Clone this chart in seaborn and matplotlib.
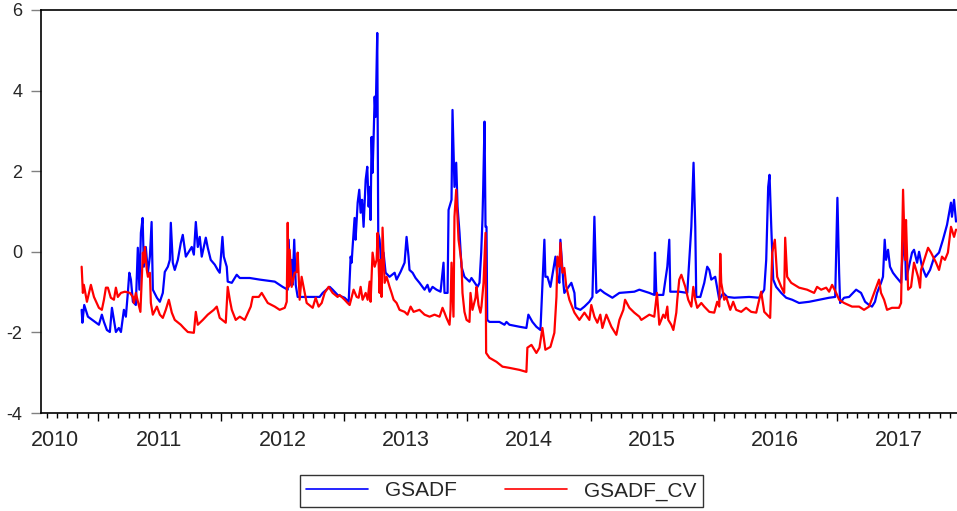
import pandas as pd
import matplotlib
matplotlib.use('Agg')
import matplotlib.pyplot as plt
import matplotlib.transforms as mtransforms
from matplotlib.ticker import MultipleLocator, NullFormatter
import seaborn as sns

# GSADF statistic (time in decimal years, value)
gsadf_t = [2010.868, 2010.874, 2010.889, 2010.919, 2010.976, 2011.008, 2011.032, 2011.049, 2011.073, 2011.097,
           2011.114, 2011.130, 2011.146, 2011.170, 2011.187, 2011.211, 2011.227, 2011.243, 2011.255, 2011.268,
           2011.284, 2011.308, 2011.324, 2011.337, 2011.349, 2011.363, 2011.373, 2011.389, 2011.406, 2011.422,
           2011.436, 2011.446, 2011.479, 2011.503, 2011.527, 2011.543, 2011.568, 2011.584, 2011.592, 2011.608,
           2011.624, 2011.649, 2011.673, 2011.689, 2011.714, 2011.738, 2011.762, 2011.779, 2011.795, 2011.811,
           2011.827, 2011.843, 2011.876, 2011.892, 2011.916, 2011.949, 2011.973, 2011.989, 2012.011, 2012.022,
           2012.046, 2012.054, 2012.087, 2012.127, 2012.152, 2012.233, 2012.314, 2012.436, 2012.500, 2012.541,
           2012.549, 2012.561, 2012.573, 2012.581, 2012.594, 2012.606, 2012.622, 2012.719, 2012.800, 2012.825,
           2012.882, 2012.906, 2012.946, 2013.003, 2013.036, 2013.052, 2013.060, 2013.068, 2013.084, 2013.092,
           2013.109, 2013.122, 2013.133, 2013.145, 2013.157, 2013.174, 2013.187, 2013.198, 2013.206, 2013.214,
           2013.222, 2013.230, 2013.238, 2013.247, 2013.255, 2013.268, 2013.276, 2013.287, 2013.303, 2013.319,
           2013.336, 2013.368, 2013.409, 2013.425, 2013.457, 2013.490, 2013.506, 2013.522, 2013.530, 2013.555,
           2013.579, 2013.611, 2013.652, 2013.676, 2013.693, 2013.717, 2013.749, 2013.782, 2013.806, 2013.814,
           2013.839, 2013.847, 2013.871, 2013.879, 2013.895, 2013.909, 2013.920, 2013.936, 2013.952, 2013.976,
           2014.017, 2014.033, 2014.082, 2014.098, 2014.112, 2014.122, 2014.128, 2014.139, 2014.147, 2014.155,
           2014.161, 2014.179, 2014.260, 2014.301, 2014.317, 2014.341, 2014.423, 2014.479, 2014.495, 2014.528,
           2014.560, 2014.593, 2014.625, 2014.633, 2014.650, 2014.674, 2014.715, 2014.731, 2014.747, 2014.755,
           2014.779, 2014.787, 2014.844, 2014.869, 2014.877, 2014.917, 2014.950, 2014.990, 2015.015, 2015.031,
           2015.047, 2015.079, 2015.112, 2015.177, 2015.234, 2015.355, 2015.396, 2015.477, 2015.517, 2015.523,
           2015.534, 2015.590, 2015.623, 2015.639, 2015.647, 2015.720, 2015.785, 2015.818, 2015.836, 2015.850,
           2015.858, 2015.891, 2015.923, 2015.947, 2015.964, 2015.980, 2016.012, 2016.045, 2016.077, 2016.109,
           2016.166, 2016.288, 2016.369, 2016.410, 2016.426, 2016.442, 2016.453, 2016.467, 2016.483, 2016.507,
           2016.548, 2016.588, 2016.637, 2016.693, 2016.775, 2016.856, 2016.937, 2016.986, 2016.991, 2017.004,
           2017.018, 2017.026, 2017.058, 2017.099, 2017.156, 2017.196, 2017.229, 2017.261, 2017.285, 2017.309,
           2017.326, 2017.358, 2017.374, 2017.388, 2017.399, 2017.415, 2017.431, 2017.455, 2017.480, 2017.521,
           2017.529, 2017.551, 2017.561, 2017.610, 2017.626, 2017.651, 2017.667, 2017.691, 2017.724, 2017.756,
           2017.788, 2017.829, 2017.861, 2017.894, 2017.926, 2017.934, 2017.951, 2017.967]
gsadf_v = [-1.44, -1.76, -1.32, -1.61, -1.74, -1.81, -1.56, -1.74, -1.94, -1.99,
           -1.39, -1.69, -1.99, -1.89, -1.99, -1.44, -1.61, -1.02, -0.52, -0.69,
           -1.24, -1.32, 0.10, -0.94, 0.47, 0.84, -0.37, 0.12, -0.52, -0.12,
           0.74, -0.94, -1.14, -1.24, -1.02, -0.50, -0.37, -0.20, 0.72, -0.27,
           -0.45, -0.20, 0.22, 0.42, -0.12, 0.00, 0.12, -0.07, 0.74, 0.12,
           0.37, -0.12, 0.35, 0.10, -0.20, -0.32, -0.45, -0.52, 0.37, -0.12,
           -0.37, -0.74, -0.77, -0.57, -0.65, -0.65, -0.69, -0.74, -0.87, -0.94,
           0.30, -0.82, -0.20, -0.82, 0.30, -0.82, -1.12, -1.12, -1.12, -1.02,
           -0.87, -0.94, -1.07, -1.14, -1.24, -0.12, -0.27, 0.12, 0.84, 0.30,
           1.22, 1.54, 0.97, 1.29, 0.62, 1.79, 2.11, 1.12, 1.61, 0.79,
           2.85, 1.96, 2.78, 3.85, 3.35, 5.43, 0.47, 0.30, -0.37, -0.02,
           -0.52, -0.62, -0.52, -0.69, -0.50, -0.27, 0.37, -0.12, -0.45, -0.52,
           -0.65, -0.77, -0.94, -0.82, -0.99, -0.87, -0.94, -0.99, -0.27, -1.02,
           -1.02, 1.04, 1.29, 3.52, 1.61, 2.21, 1.12, 0.47, -0.37, -0.62,
           -0.74, -0.65, -0.87, -0.77, -0.02, 0.79, 1.54, 3.23, 0.62, 0.62,
           -1.69, -1.74, -1.74, -1.81, -1.74, -1.81, -1.86, -1.89, -1.56, -1.74,
           -1.86, -1.94, 0.30, -0.62, -0.62, -0.87, -0.12, -0.65, -0.77, 0.30,
           -0.77, -1.02, -0.77, -1.02, -1.39, -1.44, -1.36, -1.24, -1.12, 0.87,
           -1.02, -0.94, -1.02, -1.14, -1.02, -0.99, -0.94, -1.02, -1.07, -0.02,
           -1.07, -1.07, -0.37, 0.30, -0.99, -0.99, -1.02, 0.62, 2.21, 0.62,
           -1.12, -1.12, -0.77, -0.37, -0.45, -0.69, -0.62, -1.19, -1.02, -1.12,
           -1.14, -1.12, -1.14, -0.94, -0.20, 1.61, 1.91, 0.62, -0.69, -0.87,
           -1.02, -1.14, -1.19, -1.27, -1.24, -1.19, -1.14, -1.12, -0.45, 1.34,
           -0.52, -1.27, -1.14, -1.12, -0.94, -1.02, -1.24, -1.32, -1.36, -1.24,
           -1.02, -0.77, -0.62, 0.30, -0.20, 0.05, -0.37, -0.52, -0.62, -0.77,
           -0.27, 0.37, -0.69, -0.02, 0.05, -0.27, 0.00, -0.37, -0.62, -0.45,
           -0.15, -0.02, 0.30, 0.67, 1.22, 0.87, 1.29, 0.75]

# GSADF critical value series
cv_t = [2010.868, 2010.878, 2010.886, 2010.911, 2010.943, 2010.968, 2011.008, 2011.032, 2011.049, 2011.065,
        2011.081, 2011.105, 2011.130, 2011.146, 2011.162, 2011.187, 2011.219, 2011.260, 2011.284, 2011.292,
        2011.308, 2011.345, 2011.365, 2011.373, 2011.381, 2011.397, 2011.406, 2011.422, 2011.430, 2011.446,
        2011.479, 2011.503, 2011.527, 2011.551, 2011.576, 2011.600, 2011.624, 2011.673, 2011.697, 2011.730,
        2011.779, 2011.795, 2011.811, 2011.852, 2011.892, 2011.941, 2011.965, 2011.989, 2012.038, 2012.054,
        2012.071, 2012.087, 2012.119, 2012.152, 2012.192, 2012.241, 2012.257, 2012.306, 2012.330, 2012.379,
        2012.436, 2012.476, 2012.517, 2012.533, 2012.541, 2012.549, 2012.557, 2012.573, 2012.598, 2012.614,
        2012.622, 2012.638, 2012.654, 2012.679, 2012.695, 2012.744, 2012.768, 2012.792, 2012.817, 2012.841,
        2012.873, 2012.906, 2012.946, 2012.962, 2013.003, 2013.027, 2013.044, 2013.076, 2013.101, 2013.117,
        2013.133, 2013.149, 2013.174, 2013.190, 2013.206, 2013.214, 2013.230, 2013.247, 2013.263, 2013.271,
        2013.287, 2013.295, 2013.303, 2013.311, 2013.328, 2013.344, 2013.368, 2013.384, 2013.401, 2013.425,
        2013.449, 2013.490, 2013.514, 2013.539, 2013.563, 2013.611, 2013.652, 2013.693, 2013.733, 2013.774,
        2013.798, 2013.814, 2013.830, 2013.855, 2013.863, 2013.871, 2013.887, 2013.895, 2013.909, 2013.928,
        2013.936, 2013.952, 2013.960, 2013.976, 2013.993, 2014.017, 2014.025, 2014.041, 2014.066, 2014.074,
        2014.090, 2014.106, 2014.114, 2014.131, 2014.147, 2014.152, 2014.179, 2014.236, 2014.285, 2014.341,
        2014.423, 2014.479, 2014.487, 2014.520, 2014.560, 2014.585, 2014.609, 2014.633, 2014.674, 2014.706,
        2014.723, 2014.731, 2014.747, 2014.755, 2014.771, 2014.787, 2014.803, 2014.828, 2014.869, 2014.909,
        2014.950, 2014.990, 2015.006, 2015.031, 2015.055, 2015.079, 2015.096, 2015.128, 2015.169, 2015.209,
        2015.234, 2015.266, 2015.280, 2015.315, 2015.355, 2015.396, 2015.412, 2015.477, 2015.517, 2015.539,
        2015.558, 2015.574, 2015.590, 2015.606, 2015.623, 2015.631, 2015.655, 2015.672, 2015.696, 2015.704,
        2015.720, 2015.737, 2015.769, 2015.793, 2015.818, 2015.834, 2015.850, 2015.866, 2015.899, 2015.923,
        2015.964, 2016.004, 2016.028, 2016.045, 2016.053, 2016.061, 2016.085, 2016.101, 2016.134, 2016.158,
        2016.182, 2016.223, 2016.263, 2016.304, 2016.345, 2016.369, 2016.385, 2016.410, 2016.458, 2016.475,
        2016.496, 2016.515, 2016.548, 2016.572, 2016.580, 2016.596, 2016.629, 2016.693, 2016.758, 2016.815,
        2016.839, 2016.872, 2016.913, 2016.937, 2016.961, 2016.994, 2017.018, 2017.058, 2017.123, 2017.180,
        2017.220, 2017.261, 2017.342, 2017.358, 2017.383, 2017.407, 2017.447, 2017.504, 2017.521, 2017.537,
        2017.553, 2017.561, 2017.578, 2017.602, 2017.626, 2017.659, 2017.675, 2017.683, 2017.740, 2017.764,
        2017.805, 2017.829, 2017.853, 2017.877, 2017.901, 2017.926, 2017.951, 2017.967]
cv_v = [-0.37, -1.02, -0.82, -1.24, -0.82, -1.12, -1.39, -1.44, -1.19, -0.89,
        -0.89, -1.14, -1.19, -0.89, -1.12, -1.02, -0.99, -1.02, -1.12, -1.27,
        -1.02, -1.49, -0.02, -0.27, 0.12, -0.45, -0.62, -0.52, -1.27, -1.56,
        -1.36, -1.56, -1.64, -1.44, -1.19, -1.51, -1.69, -1.81, -1.89, -1.99,
        -2.01, -1.49, -1.81, -1.69, -1.56, -1.44, -1.36, -1.64, -1.76, -0.87,
        -1.19, -1.44, -1.69, -1.61, -1.69, -1.36, -1.12, -1.12, -1.02, -1.27,
        -1.36, -1.44, -1.39, -1.24, 0.72, -0.87, 0.05, -0.87, -0.52, -0.50,
        -0.02, -1.19, -0.62, -1.02, -1.27, -1.39, -1.14, -1.36, -1.27, -1.02,
        -0.87, -1.02, -1.12, -1.07, -1.19, -1.27, -1.32, -0.94, -1.12, -1.14,
        -0.87, -1.19, -1.02, -1.19, -0.74, -1.24, -0.02, -0.37, -0.20, 0.47,
        -1.02, -0.20, -1.12, 0.60, -0.77, -0.62, -0.87, -1.02, -1.19, -1.27,
        -1.44, -1.49, -1.56, -1.36, -1.49, -1.44, -1.56, -1.61, -1.56, -1.61,
        -1.39, -1.51, -1.64, -1.81, -1.44, -0.27, -1.61, 0.87, 1.54, 0.30,
        0.12, -0.27, -1.02, -1.49, -1.69, -1.74, -1.02, -1.44, -1.14, -0.87,
        -1.32, -1.51, -1.36, -0.77, 0.47, -2.51, -2.63, -2.73, -2.85, -2.88,
        -2.93, -2.98, -2.38, -2.31, -2.51, -2.38, -1.89, -2.43, -2.36, -2.01,
        -1.12, -0.12, -0.37, 0.22, -0.52, -0.40, -0.87, -1.19, -1.51, -1.69,
        -1.51, -1.69, -1.32, -1.61, -1.76, -1.56, -1.89, -1.56, -1.86, -2.06,
        -1.69, -1.44, -1.19, -1.39, -1.51, -1.61, -1.69, -1.56, -1.61, -1.02,
        -1.81, -1.69, -1.56, -1.64, -1.36, -1.69, -1.81, -1.94, -1.51, -1.19,
        -0.69, -0.57, -0.87, -1.19, -1.36, -0.87, -1.19, -1.39, -1.27, -1.36,
        -1.49, -1.51, -1.24, -1.36, -0.05, -0.77, -1.19, -1.12, -1.44, -1.24,
        -1.44, -1.49, -1.39, -1.49, -1.51, -1.19, -0.99, -1.49, -1.64, -0.02,
        0.30, -0.62, -0.87, -1.02, 0.35, -0.62, -0.77, -0.89, -0.94, -1.02,
        -0.87, -0.94, -0.89, -0.99, -0.82, -1.02, -1.19, -1.27, -1.36, -1.36,
        -1.44, -1.36, -0.69, -1.02, -1.19, -1.44, -1.39, -1.39, -1.27, 1.54,
        -0.20, 0.79, -0.94, -0.87, -0.27, -0.62, -0.89, -0.45, 0.10, -0.02,
        -0.27, -0.45, -0.12, -0.20, -0.02, 0.62, 0.37, 0.55]

year_labels = ['2010', '2011', '2012', '2013', '2014', '2015', '2016', '2017']
year_label_pos = [2010.651, 2011.5, 2012.5, 2013.5, 2014.5, 2015.5, 2016.5, 2017.5]
y_ticks = [-4, -2, 0, 2, 4, 6]

df = pd.concat([
    pd.DataFrame({'t': gsadf_t, 'value': gsadf_v, 'series': 'GSADF'}),
    pd.DataFrame({'t': cv_t, 'value': cv_v, 'series': 'GSADF_CV'}),
], ignore_index=True)

sns.set_style('ticks')
plt.rcParams['font.family'] = ['Liberation Sans', 'DejaVu Sans']

fig = plt.figure(figsize=(9.57, 5.11), dpi=100)
ax = fig.add_axes([41 / 957, 1 - 413 / 511, 1 - 41 / 957, 403 / 511])

sns.lineplot(data=df, x='t', y='value', hue='series', estimator=None,
             palette={'GSADF': '#0000ff', 'GSADF_CV': '#ff0000'},
             linewidth=1.6, ax=ax, legend=False)

ax.set_xlim(2010.538, 2017.975)
ax.set_ylim(-4, 6)
ax.set_xlabel('')
ax.set_ylabel('')

ax.set_yticks(y_ticks)
ax.set_yticklabels([str(v) for v in y_ticks], fontsize=13)
ax.tick_params(axis='y', direction='out', length=7.5, width=1, color='#808080', pad=6)

# yearly major ticks, monthly minor ticks, year labels centred in each year
ax.xaxis.set_major_locator(MultipleLocator(1))
ax.xaxis.set_minor_locator(MultipleLocator(1 / 12))
ax.xaxis.set_major_formatter(NullFormatter())
ax.tick_params(axis='x', which='major', direction='out', length=6, width=1, color='black')
ax.tick_params(axis='x', which='minor', direction='out', length=3.6, width=1, color='black')

trans = mtransforms.blended_transform_factory(ax.transData, ax.transAxes)
for lab, pos in zip(year_labels, year_label_pos):
    ax.text(pos, -0.043, lab, transform=trans, ha='center', va='top', fontsize=15.5)

for side in ['left', 'top', 'bottom']:
    ax.spines[side].set_color('black')
    ax.spines[side].set_linewidth(1.2)
ax.spines['right'].set_visible(False)

handles = [plt.Line2D([], [], color='#0000ff', lw=1.2),
           plt.Line2D([], [], color='#ff0000', lw=1.2)]
leg = fig.legend(handles, ['GSADF', 'GSADF_CV'], loc='center', ncol=2,
                 bbox_to_anchor=(501 / 957, 1 - 491 / 511), frameon=True, fancybox=False,
                 fontsize=15, handlelength=3.0, columnspacing=2.3, borderpad=0.3,
                 handletextpad=0.8)
leg.get_frame().set_edgecolor('black')
leg.get_frame().set_linewidth(1)

fig.savefig('out.png', dpi=100)
